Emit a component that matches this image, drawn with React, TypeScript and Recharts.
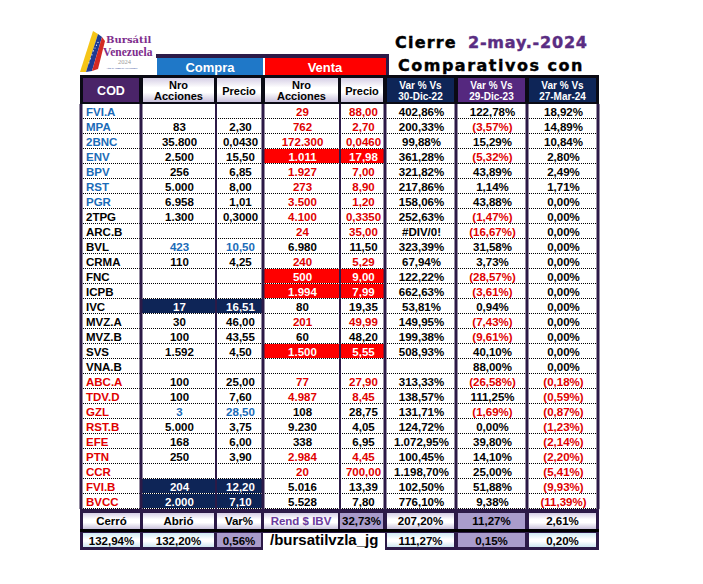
import React from 'react';
import { BarChart, Bar, XAxis, YAxis, ReferenceLine, Customized } from 'recharts';

// ---------------- data ----------------
const cods = ['FVI.A', 'MPA', '2BNC', 'ENV', 'BPV', 'RST', 'PGR', '2TPG', 'ARC.B', 'BVL', 'CRMA', 'FNC', 'ICPB', 'IVC', 'MVZ.A', 'MVZ.B', 'SVS', 'VNA.B', 'ABC.A', 'TDV.D', 'GZL', 'RST.B', 'EFE', 'PTN', 'CCR', 'FVI.B', 'BVCC'];
const compraNro = [null, 83, 35800, 2500, 256, 5000, 6958, 1300, null, 423, 110, null, null, 17, 30, 100, 1592, null, 100, 100, 3, 5000, 168, 250, null, 204, 2000];
const compraPrecio = [null, 2.3, 0.043, 15.5, 6.85, 8.0, 1.01, 0.3, null, 10.5, 4.25, null, null, 16.51, 46.0, 43.55, 4.5, null, 25.0, 7.6, 28.5, 3.75, 6.0, 3.9, null, 12.2, 7.1];
const ventaNro = [29, 762, 172300, 1011, 1927, 273, 3500, 4100, 24, 6980, 240, 500, 1994, 80, 201, 60, 1500, null, 77, 4987, 108, 9230, 338, 2984, 20, 5016, 5528];
const ventaPrecio = [88.0, 2.7, 0.046, 17.98, 7.0, 8.9, 1.2, 0.335, 35.0, 11.5, 5.29, 9.0, 7.99, 19.35, 49.99, 48.2, 5.55, null, 27.9, 8.45, 28.75, 4.05, 6.95, 4.45, 700.0, 13.39, 7.8];
const varVs30Dic22: (number | string | null)[] = [402.86, 200.33, 99.88, 361.28, 321.82, 217.86, 158.06, 252.63, '#DIV/0!', 323.39, 67.94, 122.22, 662.63, 53.81, 149.95, 199.38, 508.93, null, 313.33, 138.57, 131.71, 124.72, 1072.95, 100.45, 1198.7, 102.5, 776.1];
const varVs29Dic23 = [122.78, -3.57, 15.29, -5.32, 43.89, 1.14, 43.88, -1.47, -16.67, 31.58, 3.73, -28.57, -3.61, 0.94, -7.43, -9.61, 40.1, 88.0, -26.58, 111.25, -1.69, 0.0, 39.8, 14.1, 25.0, 51.88, 9.38];
const varVs27Mar24 = [18.92, 14.89, 10.84, 2.8, 2.49, 1.71, 0, 0, 0, 0, 0, 0, 0, 0, 0, 0, 0, 0, -0.18, -0.59, -0.87, -1.23, -2.14, -2.2, -5.41, -9.93, -11.39];
const varHeaders = ['30-Dic-22', '29-Dic-23', '27-Mar-24'];
const fechaCierre = '2-may.-2024';
const ibvCerro = 132.94;
const ibvAbrio = 132.2;
const ibvVar = 0.56;
const rendIBV = 32.73;
const rendIbvRow = [207.2, 11.27, 2.61];
const ibvRow = [111.27, 0.15, 0.2];

// groups (which rows get which colour treatment)
const codBlue = ['FVI.A', 'MPA', '2BNC', 'ENV', 'BPV', 'RST', 'PGR'];
const codRed = ['ABC.A', 'TDV.D', 'GZL', 'RST.B', 'EFE', 'PTN', 'CCR', 'FVI.B', 'BVCC'];
const compraNavy = ['IVC', 'FVI.B', 'BVCC'];
const compraBlueTxt = ['BVL', 'GZL'];
const ventaRedBg = ['ENV', 'FNC', 'ICPB', 'SVS'];
const ventaBlackTxt = ['BVL', 'IVC', 'MVZ.B', 'GZL', 'RST.B', 'EFE', 'FVI.B', 'BVCC'];

// ---------------- styles ----------------
const FONT = '"Liberation Sans", Arial, sans-serif';
const TFONT = '"DejaVu Sans", sans-serif';
const SFONT = '"Liberation Serif", serif';
const DSFONT = '"DejaVu Serif", serif';
const BLUE_TXT = '#1A6BB8';
const RED_TXT = '#E00000';
const NAVY = '#0E2557';
const DPURPLE = '#2C1A47';
const HPURPLE = '#4A2468';
const LAV = '#A99CCB';

// ---------------- formatting ----------------
const thousands = (s: string) => s.replace(/\B(?=(\d{3})+(?!\d))/g, '.');
function fmtNum(v: number, dec: number) {
  const s = Math.abs(v).toFixed(dec);
  const [i, d] = s.split('.');
  return (v < 0 ? '-' : '') + thousands(i) + (d ? ',' + d : '');
}
const fmtInt = (v: number | null) => (v == null ? '' : fmtNum(v, 0));
const fmtPrice = (v: number | null) => (v == null ? '' : fmtNum(v, v < 1 ? 4 : 2));
function fmtPct(v: number | string | null) {
  if (v == null) return '';
  if (typeof v === 'string') return v;
  const s = fmtNum(Math.abs(v), 2) + '%';
  return v < 0 ? '(' + s + ')' : s;
}

const rows = cods.map((cod, i) => ({
  cod,
  compraNro: compraNro[i],
  compraPrecio: compraPrecio[i],
  ventaNro: ventaNro[i],
  ventaPrecio: ventaPrecio[i],
  v1: varVs30Dic22[i],
  v2: varVs29Dic23[i],
  v3: varVs27Mar24[i],
}));

// column widths in px (layout only)
const COLS = [
  { id: 'cod', w: 60 },
  { id: 'compraNro', w: 75 },
  { id: 'compraPrecio', w: 47 },
  { id: 'ventaNro', w: 77 },
  { id: 'ventaPrecio', w: 45 },
  { id: 'v1', w: 71 },
  { id: 'v2', w: 71 },
  { id: 'v3', w: 71 },
];
const LEFT = 81;
const TOTAL = COLS.reduce((a, c) => a + c.w, 0);
const borders: { x: number; sw: number }[] = [];
{
  let acc = 0;
  borders.push({ x: 0, sw: 3 });
  COLS.forEach((c, i) => {
    acc += c.w;
    borders.push({ x: acc, sw: i === 1 || i === 3 ? 2 : 3 });
  });
}

function cellContent(colId: string, p: any) {
  const cod = p.cod;
  let text = '';
  let color = '#000';
  let bg: string | null = null;
  switch (colId) {
    case 'cod':
      text = cod;
      color = codBlue.includes(cod) ? BLUE_TXT : codRed.includes(cod) ? RED_TXT : '#000';
      break;
    case 'compraNro':
    case 'compraPrecio':
      text = colId === 'compraNro' ? fmtInt(p.compraNro) : fmtPrice(p.compraPrecio);
      if (compraNavy.includes(cod)) { bg = NAVY; color = '#fff'; }
      else if (compraBlueTxt.includes(cod)) color = BLUE_TXT;
      break;
    case 'ventaNro':
    case 'ventaPrecio':
      text = colId === 'ventaNro' ? fmtInt(p.ventaNro) : fmtPrice(p.ventaPrecio);
      if (ventaRedBg.includes(cod)) { bg = '#FF0000'; color = '#fff'; }
      else if (ventaBlackTxt.includes(cod)) color = '#000';
      else color = RED_TXT;
      break;
    default: {
      const v = p[colId];
      text = fmtPct(v);
      color = typeof v === 'number' && v < 0 ? RED_TXT : '#000';
    }
  }
  return { text, color, bg };
}

const makeShape = (colId: string) => (props: any) => {
  const { x, y, width, height, payload } = props;
  const { text, color, bg } = cellContent(colId, payload);
  const left = colId === 'cod';
  return (
    <g>
      <rect x={x} y={y} width={width} height={height} fill="#fff" />
      {bg && <rect x={x + 1} y={y} width={width - 2} height={height - 1} fill={bg} />}
      <line x1={x} x2={x + width} y1={y + height - 0.5} y2={y + height - 0.5} stroke="#000" strokeWidth={1} strokeDasharray="1 1" />
      <text
        x={left ? x + 5 : x + width / 2 + 1}
        y={y + height / 2 + 4}
        textAnchor={left ? 'start' : 'middle'}
        fontFamily={FONT}
        fontWeight="bold"
        fontSize={11.5}
        fill={color}
      >
        {text}
      </text>
    </g>
  );
};

const colKey = (id: string) => () => COLS.find((c) => c.id === id)!.w;

// ---------------- header / footer (decoration around the rows) ----------------
const Frame = () => {
  const hdrCells = [
    { x: 83, w: 56, fill: HPURPLE, l1: 'COD', col: '#fff' },
    { x: 143, w: 71, fill: 'url(#gw)', l1: 'Nro', l2: 'Acciones', col: '#000' },
    { x: 217, w: 44, fill: 'url(#gw)', l1: 'Precio', col: '#000' },
    { x: 265, w: 73, fill: 'url(#gw)', l1: 'Nro', l2: 'Acciones', col: '#000' },
    { x: 341, w: 42, fill: 'url(#gw)', l1: 'Precio', col: '#000' },
    { x: 387, w: 67, fill: NAVY, l1: 'Var % Vs', l2: varHeaders[0], col: '#fff', small: true },
    { x: 458, w: 67, fill: '#55287F', l1: 'Var % Vs', l2: varHeaders[1], col: '#fff', small: true },
    { x: 529, w: 67, fill: NAVY, l1: 'Var % Vs', l2: varHeaders[2], col: '#fff', small: true },
  ];
  const f1 = [
    { x: 83, w: 57, fill: 'url(#gw)', t: 'Cerró', col: '#000' },
    { x: 143, w: 71, fill: 'url(#gw)', t: 'Abrió', col: '#000' },
    { x: 217, w: 44, fill: 'url(#gw)', t: 'Var%', col: '#000' },
    { x: 264, w: 74, fill: 'url(#gw)', t: 'Rend $ IBV', col: '#6B3A9C' },
    { x: 340, w: 43, fill: LAV, t: fmtPct(rendIBV), col: '#000' },
    { x: 387, w: 67, fill: 'url(#gw)', t: fmtPct(rendIbvRow[0]), col: '#000' },
    { x: 458, w: 67, fill: LAV, t: fmtPct(rendIbvRow[1]), col: '#000' },
    { x: 529, w: 67, fill: 'url(#gw)', t: fmtPct(rendIbvRow[2]), col: '#000' },
  ];
  const f2 = [
    { x: 83, w: 57, fill: 'url(#gc)', t: fmtPct(ibvCerro) },
    { x: 143, w: 71, fill: 'url(#gc)', t: fmtPct(ibvAbrio) },
    { x: 217, w: 44, fill: LAV, t: fmtPct(ibvVar) },
    { x: 387, w: 67, fill: 'url(#gc)', t: fmtPct(ibvRow[0]) },
    { x: 458, w: 67, fill: LAV, t: fmtPct(ibvRow[1]) },
    { x: 529, w: 67, fill: 'url(#gc)', t: fmtPct(ibvRow[2]) },
  ];
  return (
    <g>
      <defs>
        <linearGradient id="gw" x1="0" y1="0" x2="0" y2="1">
          <stop offset="0" stopColor="#D6CFE6" />
          <stop offset="0.4" stopColor="#FFFFFF" />
          <stop offset="0.6" stopColor="#FFFFFF" />
          <stop offset="1" stopColor="#C9C1DC" />
        </linearGradient>
        <linearGradient id="gc" x1="0" y1="0" x2="0" y2="1">
          <stop offset="0" stopColor="#CFEAF3" />
          <stop offset="0.45" stopColor="#FFFFFF" />
          <stop offset="0.6" stopColor="#FFFFFF" />
          <stop offset="1" stopColor="#CDE6F0" />
        </linearGradient>
      </defs>

      {/* logo */}
      <polygon points="80,72 86,72 98,34 93,31" fill="#F5C518" />
      <polygon points="86,72 92,71 102,37 98,34" fill="#1E3A93" />
      <polygon points="92,71 98,69 105,41 102,37" fill="#D42A22" />
      {[0, 1, 2, 3, 4, 5, 6].map((k) => (
        <circle key={k} cx={89 + k * 1.5} cy={61 - k * 3.4 + Math.abs(k - 3) * 0.6} r={0.6} fill="#fff" />
      ))}
      <text x={106} y={43} fontFamily={DSFONT} fontWeight="bold" fontSize={10} fill="#7E2C8C">Bursátil</text>
      <text x={103} y={55.5} fontFamily={SFONT} fontWeight="bold" fontSize={11.5} fill="#7E2C8C">Venezuela</text>
      <text x={118} y={64} fontFamily={SFONT} fontSize={6.5} fill="#9A9A9A">2024</text>
      <text x={106} y={68.5} fontFamily={SFONT} fontSize={2.8} fill="#1E3A93">Año de Toma de Decisiones</text>

      {/* title */}
      <text x={395} y={48} fontFamily={TFONT} fontWeight="bold" fontSize={16} letterSpacing={1.2} fill="#000" stroke="#000" strokeWidth={0.4}>Cierre</text>
      <text x={468} y={48} fontFamily={TFONT} fontWeight="bold" fontSize={16} letterSpacing={0.8} fill="#5A2D82" stroke="#5A2D82" strokeWidth={0.4}>{fechaCierre}</text>
      <text x={398} y={71} fontFamily={TFONT} fontWeight="bold" fontSize={16} letterSpacing={1.5} fill="#000" stroke="#000" strokeWidth={0.4}>Comparativos con</text>

      {/* compra / venta boxes */}
      <rect x={156} y={54} width={233} height={4} fill={DPURPLE} />
      <rect x={386} y={54} width={3} height={24} fill={DPURPLE} />
      <rect x={157} y={58} width={106} height={19} fill="#1F78C8" />
      <rect x={265} y={58} width={121} height={19} fill="#FF0000" />
      <text x={210} y={72} textAnchor="middle" fontFamily={FONT} fontWeight="bold" fontSize={13} fill="#fff">Compra</text>
      <text x={325} y={72} textAnchor="middle" fontFamily={FONT} fontWeight="bold" fontSize={13} fill="#fff">Venta</text>

      {/* header row */}
      <rect x={80} y={75} width={519} height={30} fill="#0A0A14" />
      {hdrCells.map((c, i) => (
        <g key={i}>
          <rect x={c.x} y={78} width={c.w} height={24} fill={c.fill} />
          {c.l2 ? (
            <>
              <text x={c.x + c.w / 2} y={88.5} textAnchor="middle" fontFamily={FONT} fontWeight="bold" fontSize={c.small ? 10 : 11} fill={c.col}>{c.l1}</text>
              <text x={c.x + c.w / 2} y={99.5} textAnchor="middle" fontFamily={FONT} fontWeight="bold" fontSize={c.small ? 10 : 11} fill={c.col}>{c.l2}</text>
            </>
          ) : (
            <text x={c.x + c.w / 2} y={94.5} textAnchor="middle" fontFamily={FONT} fontWeight="bold" fontSize={i === 0 ? 12.5 : 11} fill={c.col}>{c.l1}</text>
          )}
        </g>
      ))}

      {/* footer */}
      <rect x={80} y={508} width={519} height={25} fill={DPURPLE} />
      {f1.map((c, i) => (
        <g key={i}>
          <rect x={c.x} y={513} width={c.w} height={16} fill={c.fill} />
          <text x={c.x + c.w / 2} y={525} textAnchor="middle" fontFamily={FONT} fontWeight="bold" fontSize={11.5} fill={c.col}>{c.t}</text>
        </g>
      ))}
      <rect x={80} y={529} width={519} height={3} fill="#000" />
      <rect x={80} y={532} width={183} height={18} fill={DPURPLE} />
      <rect x={385} y={532} width={214} height={18} fill={DPURPLE} />
      {f2.map((c, i) => (
        <g key={i}>
          <rect x={c.x} y={533} width={c.w} height={14} fill={c.fill} />
          <text x={c.x + c.w / 2} y={544.5} textAnchor="middle" fontFamily={FONT} fontWeight="bold" fontSize={11.5} fill="#000">{c.t}</text>
        </g>
      ))}
      <text x={270} y={545} fontFamily={FONT} fontWeight="bold" fontSize={15} fill="#000">/bursatilvzla_jg</text>
    </g>
  );
};

export default function App() {
  return (
    <div style={{ position: 'absolute', left: 0, top: 0, width: 703, height: 584, background: '#fff' }}>
      <BarChart
        width={703}
        height={584}
        data={rows}
        layout="vertical"
        margin={{ top: 104, bottom: 75, left: LEFT, right: 703 - LEFT - TOTAL }}
        barCategoryGap={0}
        barGap={0}
      >
        <XAxis type="number" domain={[0, TOTAL]} hide allowDataOverflow />
        <YAxis type="category" dataKey="cod" hide />
        {COLS.map((c) => (
          <Bar key={c.id} dataKey={colKey(c.id)} stackId="row" isAnimationActive={false} shape={makeShape(c.id)} />
        ))}
        {borders.map((b, i) => (
          <ReferenceLine key={i} x={b.x} stroke={DPURPLE} strokeWidth={b.sw} ifOverflow="visible" />
        ))}
        <Customized component={Frame} />
      </BarChart>
    </div>
  );
}
